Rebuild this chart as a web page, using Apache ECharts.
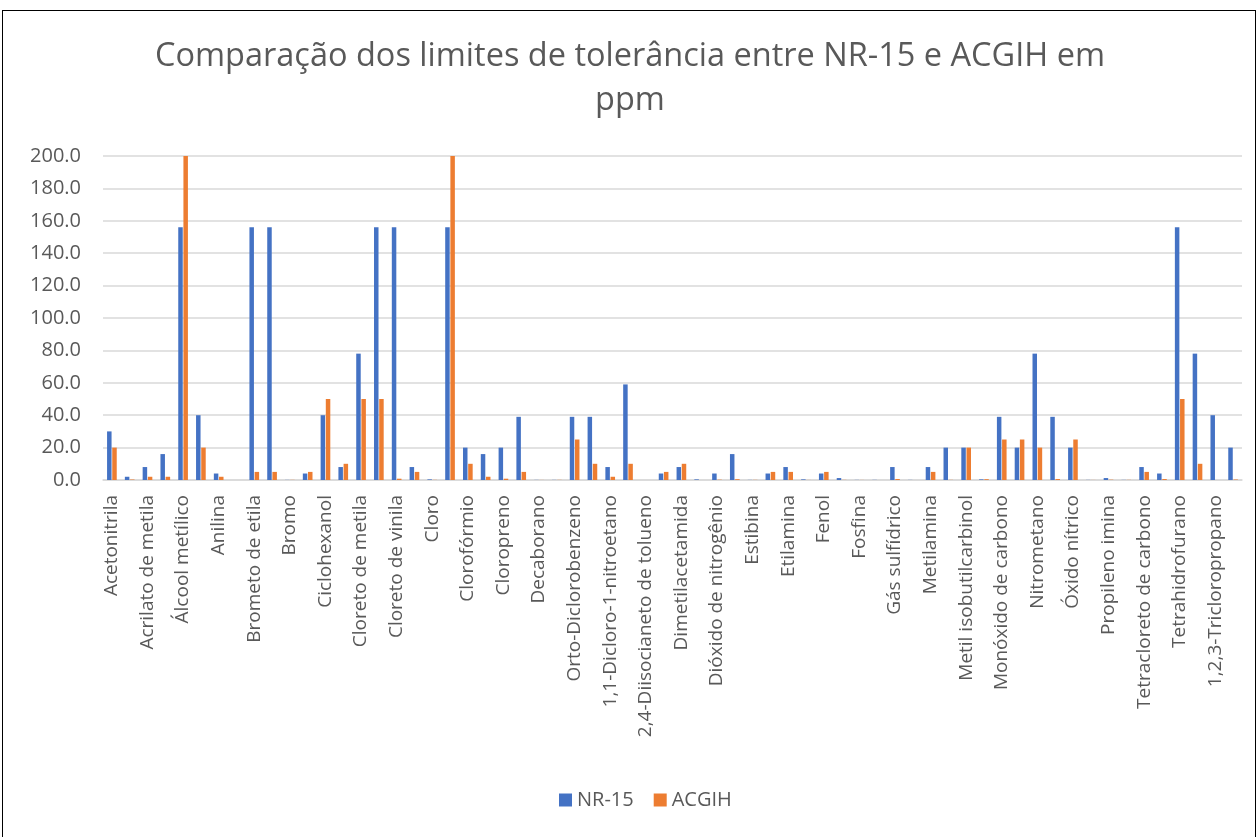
<!DOCTYPE html>
<html>
<head>
<meta charset="utf-8">
<script src="https://cdn.jsdelivr.net/npm/echarts@6/dist/echarts.min.js"></script>
<style>
  html, body { margin: 0; padding: 0; background: #fff; }
  #chart { position: absolute; left: 0; top: 0; width: 1260px; height: 837px; }
  #frame { position: absolute; left: 2px; top: 10px; width: 1252px; height: 840px;
           border: 1.5px solid #000; pointer-events: none; }
</style>
</head>
<body>
<div id="chart"></div>
<div id="frame"></div>
<script>
// categorias (só as pares aparecem no eixo, como no Excel)
const categorias = [
  'Acetonitrila', 'Ácido acético', 'Acrilato de metila', 'Acrilonitrila',
  'Álcool metílico', 'Álcool n-butílico', 'Anilina', 'Arsina',
  'Brometo de etila', 'Brometo de metila', 'Bromo', 'Butilamina',
  'Ciclohexanol', 'Ciclohexilamina', 'Cloreto de metila', 'Cloreto de metileno',
  'Cloreto de vinila', 'Cloreto de vinilideno', 'Cloro', 'Clorodifluormetano',
  'Clorofórmio', 'Cianogênio', 'Cloropreno', 'Cumeno',
  'Decaborano', 'Diborano', 'Orto-Diclorobenzeno', '1,2-Dicloroetano',
  '1,1-Dicloro-1-nitroetano', '1,2-Dicloropropano', '2,4-Diisocianeto de tolueno', 'Diisopropilamina',
  'Dimetilacetamida', 'Dimetil hidrazina', 'Dióxido de nitrogênio', 'Dissulfeto de carbono',
  'Estibina', 'Éter dicloroetílico', 'Etilamina', 'Etilenoimina',
  'Fenol', 'Formaldeído', 'Fosfina', 'Gás cianídrico',
  'Gás sulfídrico', 'Hidrazina', 'Metilamina', 'Metil cellosolve',
  'Metil isobutilcarbinol', 'Metil mercaptana', 'Monóxido de carbono', 'Nitrato de n-propila',
  'Nitrometano', 'Óxido de etileno', 'Óxido nítrico', 'Ozônio',
  'Propileno imina', 'Sulfato de dimetila', 'Tetracloreto de carbono', 'Tetracloroetano',
  'Tetrahidrofurano', 'Tricloroetileno', '1,2,3-Tricloropropano', '1,1,2-Tricloroetano'
]

const nr15 = [
  30, 2, 8, 16, 156, 40, 4, 0,
  156, 156, 0.08, 4, 40, 8, 78, 156,
  156, 8, 0.4, 156, 20, 16, 20, 39,
  0.08, 0.08, 39, 39, 8, 59, 0.016, 4,
  8, 0.4, 4, 16, 0.08, 4, 8, 0.4,
  4, 1.2, 0.08, 0.1, 8, 0.08, 8, 20,
  20, 0.4, 39, 20, 78, 39, 20, 0.08,
  1.2, 0.08, 8, 4, 156, 78, 40, 20
]

const acgih = [
  20, 0.3, 2, 2, 200, 20, 2, 0,
  5, 5, 0.1, 5, 50, 10, 50, 50,
  0.8, 5, 0.1, 200, 10, 2, 0.8, 5,
  0.05, 0.1, 25, 10, 2, 10, 0.005, 5,
  10, 0.01, 0.2, 0.5, 0.1, 5, 5, 0.05,
  5, 0.1, 0.05, 0, 0.6, 0.01, 5, 0.1,
  20, 0.5, 25, 25, 20, 0.6, 25, 0.05,
  0.2, 0.1, 5, 0.6, 50, 10, 0.005, 0.3
]

const yTicks = { min: 0, max: 200, interval: 20 }

const fonte = 'Open Sans'
const cinza = '#595959'

let myChart = echarts.init(document.getElementById('chart'))
myChart.setOption({
  textStyle: { fontFamily: fonte },
  title: {
    text: 'Comparação dos limites de tolerância entre NR-15 e ACGIH em\nppm',
    left: 'center',
    top: 30,
    textStyle: {
      color: cinza,
      fontSize: 32.5,
      fontWeight: 'normal',
      lineHeight: 44,
      fontFamily: fonte
    }
  },
  legend: {
    bottom: 22,
    left: 554,
    icon: 'rect',
    itemWidth: 13,
    itemHeight: 13,
    itemGap: 20,
    textStyle: { color: cinza, fontSize: 20, fontFamily: fonte }
  },
  grid: {
    left: 103,
    right: 18,
    top: 156,
    bottom: 357,
    containLabel: false
  },
  color: ['#4472C4', '#ED7D31'],
  xAxis: {
    type: 'category',
    data: categorias,
    axisTick: { show: false },
    axisLine: { lineStyle: { color: '#d9d9d9', width: 1.5 } },
    axisLabel: {
      interval: 1,
      rotate: 90,
      color: cinza,
      fontSize: 19,
      margin: 15,
      fontFamily: fonte
    }
  },
  yAxis: {
    type: 'value',
    min: yTicks.min,
    max: yTicks.max,
    interval: yTicks.interval,
    axisLine: { show: false },
    axisTick: { show: false },
    splitLine: { lineStyle: { color: '#d9d9d9', width: 1.5 } },
    axisLabel: {
      color: cinza,
      fontSize: 20,
      margin: 22,
      fontFamily: fonte,
      formatter: function (v) { return v.toFixed(1) }
    }
  },
  series: [
    {
      name: 'NR-15',
      type: 'bar',
      data: nr15,
      barWidth: 4.5,
      barGap: '15%',
      animation: false
    },
    {
      name: 'ACGIH',
      type: 'bar',
      data: acgih,
      barWidth: 4.5,
      animation: false
    }
  ]
})
</script>
</body>
</html>
